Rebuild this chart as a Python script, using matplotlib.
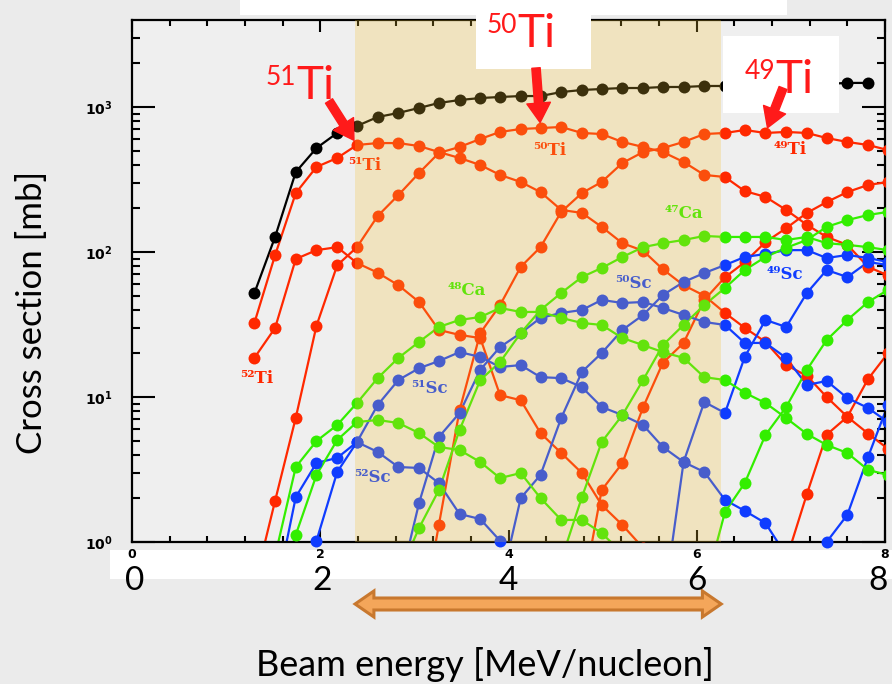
import numpy as np
import matplotlib
matplotlib.use('Agg')
import matplotlib.pyplot as plt
import matplotlib.transforms as mtransforms
from matplotlib.patches import Rectangle, Polygon
from matplotlib.ticker import MultipleLocator, LogLocator, FuncFormatter, NullFormatter

W, H = 892, 684

# beam energies of the excitation-function points [MeV/nucleon]
energy = [1.30, 1.52, 1.74, 1.96, 2.18, 2.39, 2.61, 2.83, 3.05, 3.26,
          3.48, 3.70, 3.91, 4.13, 4.34, 4.56, 4.78, 4.99, 5.21, 5.43,
          5.64, 5.86, 6.08, 6.30, 6.51, 6.73, 6.95, 7.17, 7.38, 7.60,
          7.82, 8.03]

# cross sections [mb], None where the isotope has no point
total = [52, 127, 356, 521, 662, 740, 853, 910, 985, 1066, 1117, 1153, 1172,
         1190, 1190, 1268, 1310, 1331, 1352, 1352, 1374, 1374, 1396, 1396,
         1419, 1419, 1442, 1442, 1442, 1466, 1466]

ti52 = [18.6, 29.9, 89.5, 103, 108, 84, 72, 59, 45.2, 29.0, 26.8, 25.5, 10.3,
        9.5, 5.64, 4.11, 2.99, 1.80, 1.31, 0.91]
ti51 = [32.4, 95, 255, 386, 445, 547, 564, 564, 538, 489, 445, 398, 340, 304,
        259, 195, 186, 149, 115, 102, 76, 59, 50, 38, 30, 24, 16.6, 14, 10,
        7.3, 5.6, 4.4]
ti50 = [0.5, 1.92, 7.2, 31, 81, 108, 177, 247, 351, 482, 530, 602, 673, 705,
        716, 728, 662, 651, 574, 530, 489, 418, 340, 329, 263, 240, 195, 154,
        127, 112, 79, 69]
ti49 = [None] * 8 + [0.23, 1.31, 8.1, 27.6, 43, 79, 108, 189, 255, 304, 411,
                     489, 521, 574, 651, 662, 694, 662, 673, 662, 611, 574,
                     547, 505]
ti48 = [None] * 16 + [0.42, 2.28, 3.5, 8.5, 17.2, 23.6, 46.7, 67, 85, 117,
                      146, 186, 221, 259, 290, 304]
ti47 = [None] * 26 + [0.75, 2.14, 5.5, 7.3, 13.3, 20]

sc52 = [None, 0.41, 2.04, 3.51, 3.80, 4.89, 4.18, 3.29, 3.24, 2.55, 1.56,
        1.44, 1.02, 0.6]
sc51 = [None] * 2 + [0.29, 1.02, 3.04, 4.89, 8.81, 13.1, 15.8, 17.7, 20.4,
                     18.9, 16.1, 16.6, 13.7, 13.5, 11.7, 8.53, 7.51, 6.41,
                     4.52, 3.56, 3.04, 1.95, 1.64, 1.35, 0.81]
sc50 = [None] * 7 + [0.47, 1.86, 5.30, 7.76, 15.4, 22.1, 27.6, 35.1, 38.0,
                     39.8, 46.7, 44.5, 45.2, 41.1, 36.8, 32.9, 31.4, 23.6,
                     23.6, 18.6, 12.1, 12.9, 9.84, 8.40, 6.72]
sc49 = [None] * 12 + [0.48, 2.01, 2.90, 7.16, 14.9, 20.1, 29.0, 36.8, 50.5,
                      62.1, 71.6, 81.3, 92.4, 96.9, 103, 103, 90.9, 95.4,
                      90.9, 85.3]
sc48 = [None] * 20 + [0.34, 3.56, 9.24, 7.76, 18.9, 34.0, 30.4, 52.2, 75.1,
                      67.2, 85.3, 81.3]
sc47 = [None] * 27 + [0.4, 1.0, 1.54, 3.86, 8.81]

ca49 = [None] + [0.4, 1.12, 2.90, 5.05, 6.72, 6.94, 6.62, 5.64, 4.52, 4.31,
                 3.56, 2.76, 2.99, 2.01, 1.42, 1.42, 1.15, 0.84]
ca48 = [None] + [0.8, 3.29, 4.97, 6.41, 9.09, 13.5, 18.6, 24.0, 30.4, 34.0,
                 35.6, 41.1, 38.6, 38.6, 35.1, 32.4, 31.4, 25.5, 22.8, 20.4,
                 18.6, 13.7, 13.1, 10.7, 9.09, 7.16, 5.56, 4.67, 4.11, 3.14,
                 2.90]
ca47 = [None] * 7 + [0.59, 1.25, 2.28, 5.92, 13.1, 17.4, 27.6, 39.8, 52.2,
                     67.2, 77.6, 92.4, 108, 115, 121, 129, 127, 127, 127, 121,
                     127, 115, 112, 108, 103]
ca46 = [None] * 15 + [0.75, 2.04, 4.89, 7.51, 13.1, 22.8, 31.4, 43.1, 56.5,
                      75.1, 92.4, 107, 121, 149, 166, 180, 189]
ca45 = [None] * 22 + [0.47, 1.61, 2.55, 5.47, 8.53, 15.4, 24.7, 34.0, 45.2,
                      54.7]

# energy window highlighted on the plot
window = [2.37, 6.26]
x_ticks = [0, 2, 4, 6, 8]

RED, BLUE, GREEN, BLACK = '#ff2800', '#0f3cff', '#33ee00', '#000000'
LABEL_RED = '#ff1a1a'
BG = '#ebebeb'


def fig_xy(px, py):
    return px / W, 1 - py / H


fig = plt.figure(figsize=(W / 100, H / 100), dpi=100, facecolor=BG)
ax = fig.add_axes([132 / W, 1 - 542 / H, (885 - 132) / W, (542 - 20) / H])
ax.set_facecolor('#efefef')


def draw_series(vals, color):
    y = np.array([np.nan if v is None else v for v in vals], dtype=float)
    x = np.array(energy[:len(vals)], dtype=float)
    ax.plot(x, y, '-', color=color, lw=1.6, zorder=2)
    ok = ~np.isnan(y)
    inside = ok & (y >= 0.95) & (x <= 8.0)
    ax.plot(x[inside], y[inside], 'o', ms=8.6, mew=0, color=color,
            clip_on=False, zorder=3)
    rest = ok & ~inside
    ax.plot(x[rest], y[rest], 'o', ms=8.6, mew=0, color=color, zorder=3)


draw_series(total, BLACK)
for s in (ti52, ti51, ti50, ti49, ti48, ti47):
    draw_series(s, RED)
for s in (sc52, sc51, sc50, sc49, sc48, sc47):
    draw_series(s, BLUE)
for s in (ca49, ca48, ca47, ca46, ca45):
    draw_series(s, GREEN)

ax.axvspan(window[0], window[1], color='#f3c333', alpha=0.25, lw=0, zorder=6)

ax.set_yscale('log')
ax.set_xlim(0, 8)
ax.set_ylim(1, 10 ** 3.6)
ax.set_xticks(x_ticks)
ax.xaxis.set_minor_locator(MultipleLocator(0.4))
ax.yaxis.set_major_locator(LogLocator(base=10))
ax.yaxis.set_minor_locator(LogLocator(base=10, subs=np.arange(2, 10)))
ax.yaxis.set_minor_formatter(NullFormatter())
ax.yaxis.set_major_formatter(
    FuncFormatter(lambda v, p: r'$\mathbf{10^{%d}}$' % round(np.log10(v))))
ax.tick_params(which='both', direction='in', top=True, right=True,
               width=1.5, colors='black')
ax.xaxis.set_tick_params(which='major', length=8.5, pad=4, labelsize=9)
ax.xaxis.set_tick_params(which='minor', length=4.3)
ax.yaxis.set_tick_params(which='major', length=16.5, pad=14, labelsize=10)
ax.yaxis.set_tick_params(which='minor', length=5.8)
plt.setp(ax.get_xticklabels(), fontweight='bold')
for sp in ax.spines.values():
    sp.set_linewidth(1.6)

# isotope tags next to the curves
tags = [
    ('⁵¹Ti', 2.47, 398, RED), ('⁵⁰Ti', 4.44, 505, RED), ('⁴⁹Ti', 6.99, 513, RED),
    ('⁵²Ti', 1.32, 13.5, RED), ('⁴⁸Ca', 3.56, 54, GREEN),
    ('⁴⁷Ca', 5.86, 183, GREEN), ('⁵⁰Sc', 5.33, 61, BLUE),
    ('⁴⁹Sc', 6.94, 70, BLUE), ('⁵¹Sc', 3.16, 11.5, BLUE),
    ('⁵²Sc', 2.55, 2.8, BLUE),
]
for txt, x, y, c in tags:
    ax.text(x, y, txt, family='DejaVu Serif', weight='bold', fontsize=12,
            color=c, ha='center', va='center', zorder=4)

# white boxes on top of the frame
for x0, y0, x1, y1 in [(240, 0, 787, 15), (476, 0, 591, 69),
                       (723, 36, 839, 113)]:
    ax.add_patch(Rectangle(fig_xy(x0, y1), (x1 - x0) / W, (y1 - y0) / H,
                           transform=fig.transFigure, facecolor='white',
                           edgecolor='none', clip_on=False, zorder=8))
fig.add_artist(Rectangle(fig_xy(110, 579), (W - 110) / W, 29 / H,
                         transform=fig.transFigure, facecolor='white',
                         edgecolor='none', zorder=-1))


def big_label(px, py, mass, sym):
    ax.text(*fig_xy(px, py - 14), mass, transform=fig.transFigure,
            fontsize=19, color=LABEL_RED, family='Lato', ha='right',
            va='baseline', zorder=13)
    ax.text(*fig_xy(px, py), sym, transform=fig.transFigure, fontsize=33,
            color=LABEL_RED, family='Lato', ha='left', va='baseline',
            zorder=13)


big_label(296, 99, '51', 'Ti')
big_label(517, 47, '50', 'Ti')
big_label(775, 93, '49', 'Ti')

arrow_style = 'simple,head_length=1.4,head_width=1.7,tail_width=0.6'
for start, xi, series in [((329, 101), 5, ti51), ((536, 68), 14, ti50),
                          ((783, 88), 25, ti49)]:
    ax.annotate('', xy=(energy[xi], series[xi]), xycoords='data',
                xytext=fig_xy(*start), textcoords='figure fraction',
                arrowprops=dict(arrowstyle=arrow_style, color=LABEL_RED,
                                shrinkA=0, shrinkB=4, mutation_scale=10),
                annotation_clip=False, zorder=12)

# large axis digits under the small tick labels
for v, px in zip(x_ticks, [135, 322, 508, 697, 878]):
    fig.text(*fig_xy(px, 581), str(v), fontsize=24, family='Lato',
             ha='center', va='center')

fig.text(*fig_xy(485, 664), 'Beam energy [MeV/nucleon]', fontsize=26,
         family='Lato', ha='center', va='center')
fig.text(*fig_xy(32, 312), 'Cross section [mb]', fontsize=25, family='Lato',
         rotation=90, ha='center', va='center')

# double arrow under the axis spanning the highlighted window
blend = mtransforms.blended_transform_factory(ax.transData, fig.transFigure)
yc, half_shaft, half_head, head_len = 604, 6, 13, 0.2
ys = [1 - (yc + d) / H for d in (0, -half_head, -half_shaft, -half_shaft,
                                 -half_head, 0, half_head, half_shaft,
                                 half_shaft, half_head)]
lo, hi = window
xs = [lo, lo + head_len, lo + head_len, hi - head_len, hi - head_len, hi,
      hi - head_len, hi - head_len, lo + head_len, lo + head_len]
fig.add_artist(Polygon(list(zip(xs, ys)), closed=True, transform=blend,
                       facecolor='#f4a65a', edgecolor='#c8782e', lw=2.2))

fig.savefig('out.png', dpi=100, facecolor=BG)
